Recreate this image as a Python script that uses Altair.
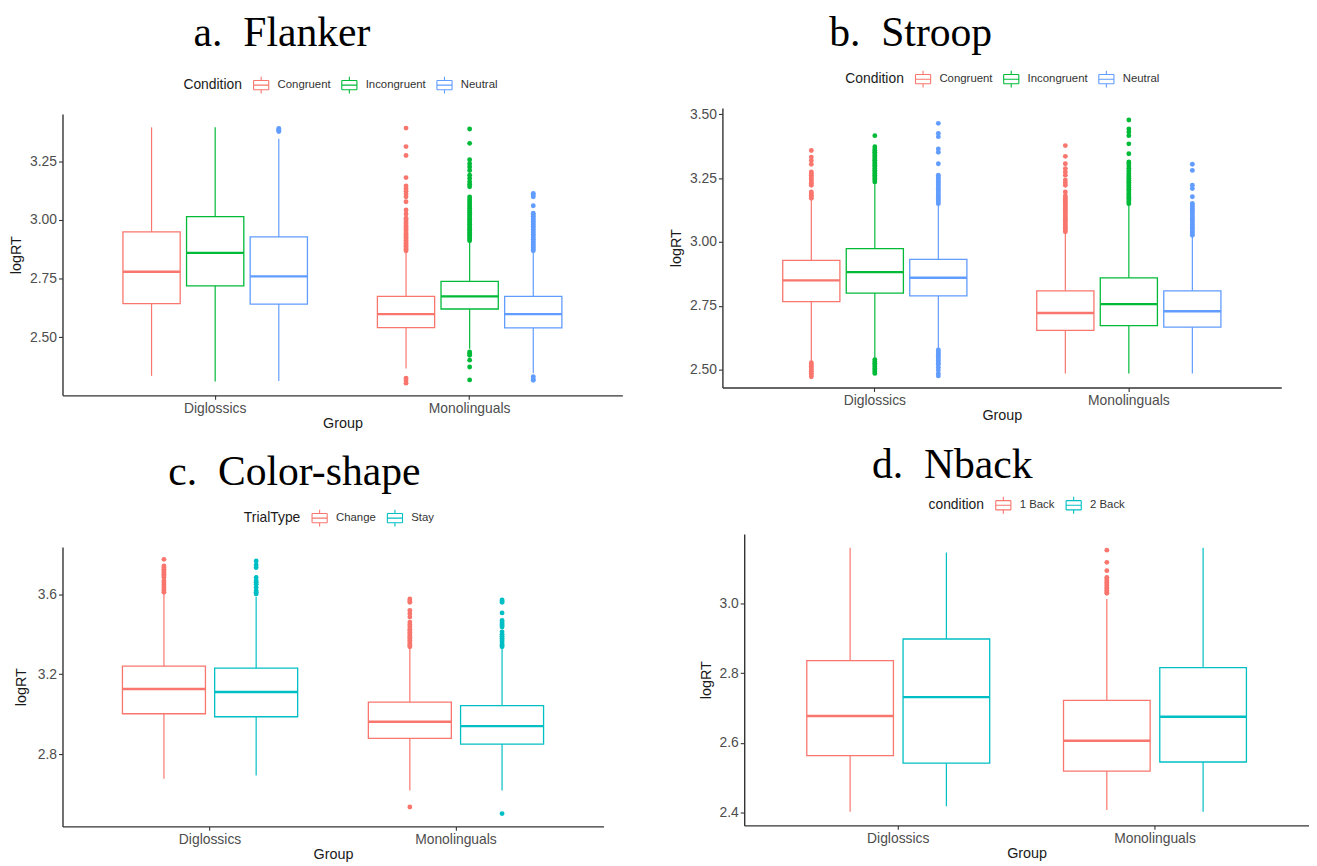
import altair as alt
import pandas as pd

GROUPS = ["Diglossics", "Monolinguals"]

# ---------------- a. Flanker ----------------
FL_CONDS = ["Congruent", "Incongruent", "Neutral"]
FL_COLORS = ["#F8766D", "#00BA38", "#619CFF"]
FL_BOX_GROUP = ["Diglossics", "Diglossics", "Diglossics", "Monolinguals", "Monolinguals", "Monolinguals"]
FL_BOX_COND = ["Congruent", "Incongruent", "Neutral", "Congruent", "Incongruent", "Neutral"]
FL_LO = [2.335, 2.311, 2.313, 2.367, 2.451, 2.346]
FL_Q1 = [2.643, 2.719, 2.641, 2.541, 2.620, 2.540]
FL_MED = [2.779, 2.859, 2.759, 2.598, 2.674, 2.598]
FL_Q3 = [2.949, 3.014, 2.927, 2.674, 2.738, 2.674]
FL_HI = [3.394, 3.394, 3.345, 2.866, 2.909, 2.866]
FL_OUT_DIG_NEUT = [3.376, 3.381, 3.385, 3.389]
FL_OUT_MONO_CONG = [2.868, 2.874, 2.880, 2.887, 2.893, 2.899, 2.905, 2.912, 2.918, 2.925, 2.931,
                    2.938, 2.944, 2.952, 2.960, 2.968, 2.975, 2.983, 2.991, 2.999, 3.007, 3.025,
                    3.042, 3.077, 3.098, 3.110, 3.122, 3.133, 3.144, 3.180, 3.274, 3.312, 3.391,
                    2.325, 2.314, 2.304]
FL_OUT_MONO_INC = [2.911, 2.918, 2.925, 2.932, 2.939, 2.946, 2.953, 2.960, 2.967, 2.974, 2.981,
                   2.988, 2.995, 3.002, 3.009, 3.016, 3.024, 3.032, 3.040, 3.048, 3.056, 3.064,
                   3.072, 3.080, 3.089, 3.098, 3.141, 3.152, 3.162, 3.176, 3.190, 3.210, 3.225,
                   3.239, 3.256, 3.326, 3.387, 2.437, 2.430, 2.423, 2.402, 2.373, 2.318]
FL_OUT_MONO_NEUT = [2.868, 2.875, 2.882, 2.889, 2.896, 2.903, 2.910, 2.917, 2.924, 2.931, 2.938,
                    2.945, 2.952, 2.959, 2.966, 2.973, 2.980, 2.987, 2.994, 3.001, 3.008, 3.015,
                    3.022, 3.028, 3.060, 3.098, 3.106, 3.113, 2.332, 2.322, 2.316]

# ---------------- b. Stroop ----------------
ST_CONDS = ["Congruent", "Incongruent", "Neutral"]
ST_COLORS = ["#F8766D", "#00BA38", "#619CFF"]
ST_BOX_GROUP = ["Diglossics", "Diglossics", "Diglossics", "Monolinguals", "Monolinguals", "Monolinguals"]
ST_BOX_COND = ["Congruent", "Incongruent", "Neutral", "Congruent", "Incongruent", "Neutral"]
ST_LO = [2.531, 2.544, 2.583, 2.486, 2.486, 2.486]
ST_Q1 = [2.767, 2.800, 2.789, 2.654, 2.673, 2.667]
ST_MED = [2.850, 2.882, 2.860, 2.722, 2.757, 2.729]
ST_Q3 = [2.928, 2.974, 2.932, 2.809, 2.860, 2.809]
ST_HI = [3.164, 3.229, 3.145, 3.035, 3.145, 3.022]
ST_OUT_DIG_CONG = [3.171, 3.177, 3.183, 3.190, 3.196, 3.222, 3.230, 3.235, 3.242, 3.248, 3.255,
                   3.261, 3.268, 3.274, 3.304, 3.319, 3.332, 3.358,
                   2.528, 2.521, 2.514, 2.507, 2.500, 2.494, 2.487, 2.480, 2.473]
ST_OUT_DIG_INC = [3.235, 3.242, 3.248, 3.255, 3.261, 3.268, 3.274, 3.281, 3.287, 3.294, 3.300,
                  3.307, 3.313, 3.320, 3.326, 3.332, 3.338, 3.345, 3.351, 3.358, 3.364, 3.373,
                  3.416, 2.540, 2.533, 2.526, 2.519, 2.512, 2.505, 2.499, 2.492, 2.486]
ST_OUT_DIG_NEUT = [3.150, 3.157, 3.164, 3.171, 3.178, 3.185, 3.192, 3.199, 3.206, 3.213, 3.220,
                   3.227, 3.234, 3.241, 3.248, 3.255, 3.261, 3.306, 3.351, 3.364, 3.412, 3.425,
                   3.464, 2.578, 2.571, 2.564, 2.557, 2.550, 2.543, 2.536, 2.529, 2.522, 2.510,
                   2.499, 2.486, 2.476]
ST_OUT_MONO_CONG = [3.040, 3.047, 3.054, 3.061, 3.068, 3.075, 3.082, 3.089, 3.096, 3.103, 3.110,
                    3.117, 3.124, 3.131, 3.138, 3.145, 3.152, 3.159, 3.166, 3.173, 3.180, 3.196,
                    3.222, 3.232, 3.242, 3.261, 3.274, 3.287, 3.306, 3.335, 3.377]
ST_OUT_MONO_INC = [3.150, 3.157, 3.164, 3.171, 3.178, 3.185, 3.192, 3.199, 3.206, 3.213, 3.220,
                   3.227, 3.234, 3.241, 3.248, 3.255, 3.262, 3.270, 3.279, 3.288, 3.297, 3.306,
                   3.313, 3.345, 3.384, 3.416, 3.430, 3.442, 3.477]
ST_OUT_MONO_NEUT = [3.026, 3.033, 3.040, 3.047, 3.054, 3.061, 3.068, 3.075, 3.082, 3.089, 3.096,
                    3.103, 3.110, 3.117, 3.124, 3.131, 3.138, 3.145, 3.151, 3.177, 3.209, 3.222,
                    3.280, 3.304]

# ---------------- c. Color-shape ----------------
CS_CONDS = ["Change", "Stay"]
CS_COLORS = ["#F8766D", "#00BFC4"]
CS_BOX_GROUP = ["Diglossics", "Diglossics", "Monolinguals", "Monolinguals"]
CS_BOX_COND = ["Change", "Stay", "Change", "Stay"]
CS_LO = [2.676, 2.693, 2.618, 2.618]
CS_Q1 = [3.002, 2.987, 2.879, 2.850]
CS_MED = [3.126, 3.111, 2.962, 2.940]
CS_Q3 = [3.240, 3.230, 3.060, 3.043]
CS_HI = [3.602, 3.588, 3.329, 3.329]
CS_OUT_DIG_CHANGE = [3.610, 3.618, 3.626, 3.637, 3.648, 3.658, 3.668, 3.684, 3.693, 3.701, 3.709,
                     3.718, 3.726, 3.734, 3.742, 3.775]
CS_OUT_DIG_STAY = [3.602, 3.610, 3.618, 3.634, 3.651, 3.660, 3.668, 3.684, 3.734, 3.747, 3.767]
CS_OUT_MONO_CHANGE = [3.337, 3.345, 3.353, 3.361, 3.369, 3.377, 3.385, 3.393, 3.401, 3.409, 3.417,
                      3.425, 3.437, 3.449, 3.461, 3.486, 3.503, 3.519, 3.560, 3.568, 3.577, 2.535]
CS_OUT_MONO_STAY = [3.337, 3.345, 3.353, 3.362, 3.371, 3.380, 3.390, 3.400, 3.412, 3.436, 3.445,
                    3.453, 3.461, 3.469, 3.507, 3.560, 3.566, 3.572, 2.502]

# ---------------- d. Nback ----------------
NB_CONDS = ["1 Back", "2 Back"]
NB_COLORS = ["#F8766D", "#00BFC4"]
NB_BOX_GROUP = ["Diglossics", "Diglossics", "Monolinguals", "Monolinguals"]
NB_BOX_COND = ["1 Back", "2 Back", "1 Back", "2 Back"]
NB_LO = [2.402, 2.418, 2.407, 2.402]
NB_Q1 = [2.563, 2.542, 2.519, 2.545]
NB_MED = [2.677, 2.731, 2.606, 2.675]
NB_Q3 = [2.836, 2.898, 2.722, 2.816]
NB_HI = [3.160, 3.146, 3.013, 3.160]
NB_OUT_MONO_1 = [3.029, 3.033, 3.037, 3.042, 3.046, 3.051, 3.056, 3.060, 3.065, 3.070, 3.075,
                 3.094, 3.118, 3.153]

# legend key: box outline drawn as open segments (nothing to fill), median and whiskers
BOX_SYMBOL = ("M-0.9,-0.55H0.9 M0.9,-0.55V0.55 M0.9,0.55H-0.9 M-0.9,0.55V-0.55 "
              "M-0.9,0H0.9 M0,-0.55V-1 M0,0.55V1")

RESOLVE = dict(x="independent", y="independent", xOffset="independent",
               stroke="independent", fill="independent")


def box_frame(groups, conds, lo, q1, med, q3, hi):
    return pd.DataFrame({"Group": groups, "Cond": conds, "lo": lo, "q1": q1,
                         "med": med, "q3": q3, "hi": hi})


def out_frame(parts):
    rows = []
    for (g, c), vals in parts:
        for v in vals:
            rows.append({"Group": g, "Cond": c, "v": v})
    return pd.DataFrame(rows)


def panel(title, tdx, toff, ltitle, conds, colors, boxes, outs, ydom, yticks, yfmt,
          width, height, yrange, lx, ly, ytp):
    xs = alt.X("Group:N", scale=alt.Scale(domain=GROUPS, paddingInner=0.25, paddingOuter=0.225),
               axis=alt.Axis(title="Group", labelAngle=0, labelPadding=2, titlePadding=1))
    xo = alt.XOffset("Cond:N", scale=alt.Scale(domain=conds, paddingInner=0.1, paddingOuter=0.05))
    ysc = alt.Scale(domain=ydom, nice=False, zero=False, range=yrange)
    yax = alt.Axis(title="logRT", values=yticks, format=yfmt, labelPadding=2, titlePadding=ytp)
    stroke = alt.Stroke("Cond:N", scale=alt.Scale(domain=conds, range=colors),
                        legend=alt.Legend(title=ltitle, orient="none", legendX=lx, legendY=ly,
                                          direction="horizontal", titleOrient="left",
                                          symbolType=BOX_SYMBOL, symbolSize=289,
                                          symbolStrokeWidth=1.1, symbolFillColor="#ffffff",
                                          symbolOpacity=1,
                                          labelFont="Liberation Sans", labelFontSize=11.5,
                                          labelColor="#333333", titleFont="Liberation Sans",
                                          titleFontSize=14, titleFontWeight="normal",
                                          titleColor="#1a1a1a", titlePadding=9,
                                          labelOffset=7, columnPadding=8))
    fill = alt.Fill("Cond:N", scale=alt.Scale(domain=conds, range=colors), legend=None)
    base = alt.Chart(boxes)
    box = base.mark_bar(filled=False, strokeWidth=1.3).encode(
        x=xs, xOffset=xo, y=alt.Y("q1:Q", scale=ysc, axis=yax), y2="q3:Q", stroke=stroke)
    lower = base.mark_rule(strokeWidth=1.2).encode(
        x=xs, xOffset=xo, y=alt.Y("lo:Q", scale=ysc, axis=yax), y2="q1:Q", stroke=stroke)
    upper = base.mark_rule(strokeWidth=1.2).encode(
        x=xs, xOffset=xo, y=alt.Y("q3:Q", scale=ysc, axis=yax), y2="hi:Q", stroke=stroke)
    med = base.mark_bar(filled=False, strokeWidth=2.4).encode(
        x=xs, xOffset=xo, y=alt.Y("med:Q", scale=ysc, axis=yax), y2="med:Q", stroke=stroke)
    layers = [box, lower, upper, med]
    if len(outs):
        pts = alt.Chart(outs).mark_circle(size=24, opacity=1).encode(
            x=xs, xOffset=xo, y=alt.Y("v:Q", scale=ysc, axis=yax), fill=fill)
        layers.append(pts)
    return alt.layer(*layers).properties(
        width=width, height=height,
        title=alt.TitleParams(title, dx=tdx, offset=toff, baseline="alphabetic",
                              anchor="middle", frame="group"))


pa = panel("a.\u2002Flanker", -61, -12, "Condition", FL_CONDS, FL_COLORS,
           box_frame(FL_BOX_GROUP, FL_BOX_COND, FL_LO, FL_Q1, FL_MED, FL_Q3, FL_HI),
           out_frame([(("Diglossics", "Neutral"), FL_OUT_DIG_NEUT),
                      (("Monolinguals", "Congruent"), FL_OUT_MONO_CONG),
                      (("Monolinguals", "Incongruent"), FL_OUT_MONO_INC),
                      (("Monolinguals", "Neutral"), FL_OUT_MONO_NEUT)]),
           [2.252, 3.451], [2.50, 2.75, 3.00, 3.25], ".2f", 565, 290, [290, 6], 122, -33, 6)

pb = panel("b.\u2002Stroop", -92, -18, "Condition", ST_CONDS, ST_COLORS,
           box_frame(ST_BOX_GROUP, ST_BOX_COND, ST_LO, ST_Q1, ST_MED, ST_Q3, ST_HI),
           out_frame([(("Diglossics", "Congruent"), ST_OUT_DIG_CONG),
                      (("Diglossics", "Incongruent"), ST_OUT_DIG_INC),
                      (("Diglossics", "Neutral"), ST_OUT_DIG_NEUT),
                      (("Monolinguals", "Congruent"), ST_OUT_MONO_CONG),
                      (("Monolinguals", "Incongruent"), ST_OUT_MONO_INC),
                      (("Monolinguals", "Neutral"), ST_OUT_MONO_NEUT)]),
           [2.431, 3.524], [2.50, 2.75, 3.00, 3.25, 3.50], ".2f", 564, 282, [282, 0], 124, -39, 6)

pc = panel("c.\u2002Color-shape", -39, -18, "TrialType", CS_CONDS, CS_COLORS,
           box_frame(CS_BOX_GROUP, CS_BOX_COND, CS_LO, CS_Q1, CS_MED, CS_Q3, CS_HI),
           out_frame([(("Diglossics", "Change"), CS_OUT_DIG_CHANGE),
                      (("Diglossics", "Stay"), CS_OUT_DIG_STAY),
                      (("Monolinguals", "Change"), CS_OUT_MONO_CHANGE),
                      (("Monolinguals", "Stay"), CS_OUT_MONO_STAY)]),
           [2.438, 3.837], [2.8, 3.2, 3.6], ".1f", 546, 295, [295, 13], 183, -26, 9)

pd_ = panel("d.\u2002Nback", -75, -24, "condition", NB_CONDS, NB_COLORS,
            box_frame(NB_BOX_GROUP, NB_BOX_COND, NB_LO, NB_Q1, NB_MED, NB_Q3, NB_HI),
            out_frame([(("Monolinguals", "1 Back"), NB_OUT_MONO_1)]),
            [2.363, 3.199], [2.4, 2.6, 2.8, 3.0], ".1f", 570, 294, [294, 0], 186, -39, 6)

row1 = alt.hconcat(pa, pb, spacing=46).resolve_scale(**RESOLVE).resolve_legend(
    stroke="independent", fill="independent")
row2 = alt.hconcat(pc, pd_, spacing=95).resolve_scale(**RESOLVE).resolve_legend(
    stroke="independent", fill="independent")

chart = alt.vconcat(row1, row2, spacing=14).resolve_scale(**RESOLVE).resolve_legend(
    stroke="independent", fill="independent"
).properties(padding=0).configure_view(
    stroke=None
).configure_axis(
    grid=False, domainColor="#333333", domainWidth=1.4, tickColor="#333333", tickWidth=1.1,
    tickSize=4, labelFont="Liberation Sans", labelFontSize=14, labelColor="#4d4d4d",
    titleFont="Liberation Sans", titleFontSize=14.5, titleFontWeight="normal", titleColor="#1a1a1a"
).configure_title(
    font="Liberation Serif", fontSize=42, fontWeight="normal", color="black"
)

chart.save("out.html", embed_options={"renderer": "svg", "actions": False})
